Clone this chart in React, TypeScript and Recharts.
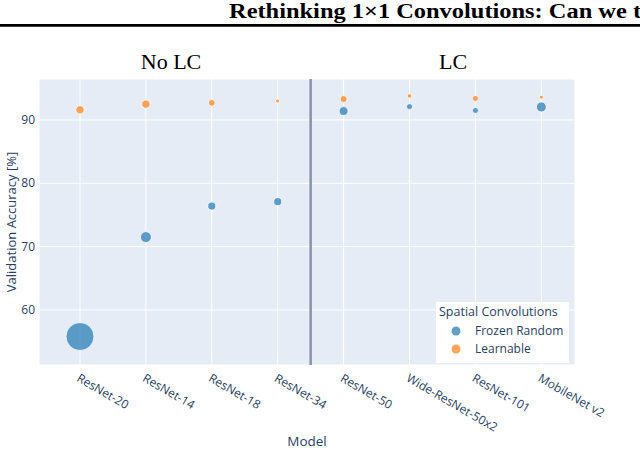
import React from 'react';
import {
  ScatterChart, Scatter, XAxis, YAxis, ZAxis, CartesianGrid, ReferenceLine, Legend, Label,
} from 'recharts';

const models = ['ResNet-20', 'ResNet-14', 'ResNet-18', 'ResNet-34', 'ResNet-50', 'Wide-ResNet-50x2', 'ResNet-101', 'MobileNet v2'];
const frozenAcc = [55.8, 71.5, 76.4, 77.1, 91.4, 92.1, 91.5, 92.05];
const frozenSpread = [7.8, 1.2, 0.64, 0.64, 0.81, 0.36, 0.36, 1.0];
const learnAcc = [91.6, 92.5, 92.7, 93.0, 93.3, 93.8, 93.4, 93.6];
const learnSpread = [0.69, 0.69, 0.45, 0.16, 0.49, 0.2, 0.36, 0.16];
const yTicks = [60, 70, 80, 90];
const seriesNames = ['Frozen Random', 'Learnable'];
const groupLabels = ['No LC', 'LC'];
const headerText = 'Rethinking 1×1 Convolutions: Can we tra';

const frozenData = models.map((m, i) => ({ x: i, y: frozenAcc[i], z: frozenSpread[i], name: m }));
const learnData = models.map((m, i) => ({ x: i, y: learnAcc[i], z: learnSpread[i], name: m }));

const BLUE = '#1f77b4';
const ORANGE = '#ff7f0e';
const TEXT = '#2a3f5f';
const FONT = '"Open Sans", sans-serif';
const SERIF = '"Liberation Serif", "Times New Roman", serif';

const makeShape = (color: string) => (props: any) => {
  const r = props.width ? props.width / 2 : Math.sqrt(Math.max(props.size || 0, 0) / Math.PI);
  return (
    <circle cx={props.cx} cy={props.cy} r={r} fill={color} fillOpacity={0.7} stroke="#ffffff" strokeWidth={0.8} />
  );
};

const XTick = (props: any) => {
  const { x, payload } = props;
  const ax = x - 2;
  const ay = 377;
  return (
    <text x={ax} y={ay} dy="0.35em" textAnchor="start" transform={`rotate(30, ${ax}, ${ay})`}
      fontFamily={FONT} fontSize={12} fill={TEXT}>
      {models[payload.value]}
    </text>
  );
};

const YTick = (props: any) => {
  const { y, payload } = props;
  return (
    <text x={35} y={y} dy="0.35em" textAnchor="end" fontFamily={FONT} fontSize={12} fill={TEXT}>
      {payload.value}
    </text>
  );
};

const LegendBox = () => (
  <div style={{
    background: '#ffffff', width: 133, height: 61, boxSizing: 'border-box', fontFamily: FONT,
    color: TEXT, fontSize: 12, position: 'relative',
  }}>
    <div style={{ position: 'absolute', left: 3, top: 1, fontSize: 12.5, whiteSpace: 'nowrap' }}>Spatial Convolutions</div>
    {seriesNames.map((n, i) => (
      <div key={n} style={{ position: 'absolute', left: 0, top: 20 + i * 18, height: 18, width: 133 }}>
        <svg width={30} height={18} style={{ position: 'absolute', left: 5, top: 0 }}>
          <circle cx={15} cy={9} r={4.5} fill={i === 0 ? BLUE : ORANGE} fillOpacity={0.7} />
        </svg>
        <span style={{ position: 'absolute', left: 39, top: 0, lineHeight: '18px', whiteSpace: 'nowrap' }}>{n}</span>
      </div>
    ))}
  </div>
);

export default function App() {
  return (
    <div style={{ position: 'absolute', left: 0, top: 0, width: 640, height: 450, background: '#fff', overflow: 'hidden' }}>
      <ScatterChart width={640} height={450} margin={{ top: 79, right: 65, bottom: 0, left: 0 }}
        style={{ fontFamily: FONT }}>
        <CartesianGrid fill="#E5ECF6" fillOpacity={1} stroke="#ffffff" strokeWidth={1} />
        <XAxis type="number" dataKey="x" domain={[-0.622, 7.511]} ticks={[0, 1, 2, 3, 4, 5, 6, 7]}
          allowDataOverflow height={85} axisLine={false} tickLine={false} tick={<XTick />} interval={0}>
          <Label content={(p: any) => {
            const vb = p.viewBox;
            return (
              <text x={vb.x + vb.width / 2} y={446} textAnchor="middle" fontFamily={FONT} fontSize={13.5} fill={TEXT}>Model</text>
            );
          }} />
        </XAxis>
        <YAxis type="number" dataKey="y" domain={[51.3, 96.47]} ticks={yTicks} allowDataOverflow width={39}
          axisLine={false} tickLine={false} tick={<YTick />}>
          <Label content={() => (
            <text x={11} y={222} textAnchor="middle" transform="rotate(-90, 11, 222)" dy="0.35em"
              fontFamily={FONT} fontSize={13} fill={TEXT}>Validation Accuracy [%]</text>
          )} />
        </YAxis>
        <ZAxis type="number" dataKey="z" domain={[0, 7.8]} range={[0, 616]} />
        <ReferenceLine x={3.5} stroke="#8793a8" strokeWidth={2.5} />
        <Scatter name={seriesNames[0]} data={frozenData} fill={BLUE} shape={makeShape(BLUE)} isAnimationActive={false} />
        <Scatter name={seriesNames[1]} data={learnData} fill={ORANGE} shape={makeShape(ORANGE)} isAnimationActive={false} />
        <Legend layout="horizontal" verticalAlign="middle" align="center" content={<LegendBox />}
          wrapperStyle={{ position: 'absolute', left: 436, top: 302, width: 133, height: 61 }} />
      </ScatterChart>
      <svg width={640} height={80} style={{ position: 'absolute', left: 0, top: 0, pointerEvents: 'none' }}>
        <text x={229} y={17.5} fontFamily={SERIF} fontWeight="bold" fontSize={22}
          fill="#000" transform="translate(229,0) scale(1.11,1) translate(-229,0)">{headerText}</text>
        <line x1={0} x2={640} y1={25.4} y2={25.4} stroke="#000" strokeWidth={2.7} />
        <text x={171} y={69} textAnchor="middle" fontFamily={SERIF} fontSize={22} fill="#000">{groupLabels[0]}</text>
        <text x={453} y={69} textAnchor="middle" fontFamily={SERIF} fontSize={22} fill="#000">{groupLabels[1]}</text>
      </svg>
    </div>
  );
}
